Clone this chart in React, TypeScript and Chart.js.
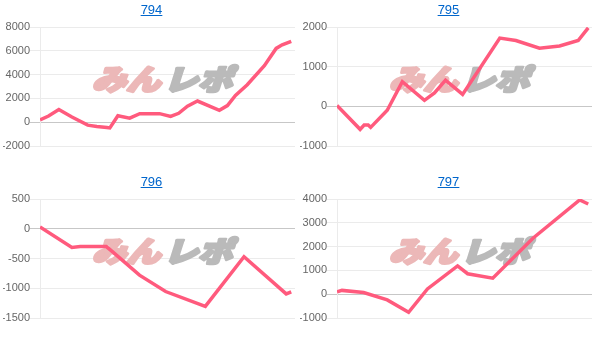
import React, { useEffect, useRef } from "react";
import { Chart, registerables } from "chart.js";

Chart.register(...registerables);

// Titles of the four small charts
const titles = ["794", "795", "796", "797"];

// Progress (% of run) and value for each chart
const x794 = [0, 3.4, 7.5, 12.7, 19.0, 22.6, 26.6, 27.8, 31.0, 35.7, 39.7, 47.6, 52.0, 55.2, 58.7, 62.7, 71.4, 74.6, 77.8, 82.5, 89.3, 94.0, 96.4, 100];
const y794 = [200, 520, 1060, 430, -250, -360, -440, -480, 540, 340, 720, 720, 480, 750, 1350, 1780, 1000, 1400, 2250, 3150, 4750, 6200, 6500, 6800];

const x795 = [0, 9.2, 10.8, 12.4, 13.4, 20, 26, 34.8, 38.8, 43.2, 50, 64.8, 71.2, 80.6, 88.6, 96, 100];
const y795 = [20, -580, -470, -470, -530, -100, 620, 150, 340, 660, 300, 1720, 1660, 1464, 1520, 1660, 1980];

const x796 = [0, 12.7, 16, 26.4, 28.7, 39.6, 50, 65.8, 81.2, 98, 100];
const y796 = [30, -315, -300, -300, -380, -780, -1055, -1305, -470, -1095, -1060];

const x797 = [0, 2, 10.6, 20, 28.5, 36, 48, 52, 62, 78, 96.6, 100];
const y797 = [100, 160, 70, -240, -760, 220, 1190, 860, 675, 2350, 3960, 3790];

// Y axis ranges / tick steps
const yMins = [-2000, -1000, -1500, -1000];
const yMaxs = [8000, 2000, 500, 4000];
const ySteps = [2000, 1000, 500, 1000];

const xsAll = [x794, x795, x796, x797];
const ysAll = [y794, y795, y796, y797];

const PANEL_W = 297;
const PANEL_H = 172;

const watermark = {
  id: "watermark",
  beforeDatasetsDraw(chart: any) {
    const { ctx, chartArea } = chart;
    ctx.save();
    const cx = (chartArea.left + chartArea.right) / 2 - 2;
    const cy = chartArea.top + 52;
    ctx.translate(cx, cy);
    ctx.transform(1.14, 0, -0.3, 0.95, 0, 0);
    ctx.font = "900 30px 'Noto Sans CJK JP'";
    ctx.textBaseline = "middle";
    ctx.lineJoin = "round";
    ctx.lineWidth = 3;
    const a = "みん";
    const b = "レポ";
    const wa = ctx.measureText(a).width;
    const wb = ctx.measureText(b).width;
    const gap = 3;
    const total = wa + wb + gap;
    ctx.fillStyle = "rgb(236,184,184)";
    ctx.strokeStyle = "rgb(236,184,184)";
    ctx.strokeText(a, -total / 2, 0);
    ctx.fillText(a, -total / 2, 0);
    ctx.fillStyle = "rgb(186,186,186)";
    ctx.strokeStyle = "rgb(186,186,186)";
    ctx.strokeText(b, -total / 2 + wa + gap, 0);
    ctx.fillText(b, -total / 2 + wa + gap, 0);
    ctx.restore();
  },
};

function Panel({ idx, left, top }: { idx: number; left: number; top: number }) {
  const ref = useRef<HTMLCanvasElement>(null);
  useEffect(() => {
    if (!ref.current) return;
    const xs = xsAll[idx];
    const ys = ysAll[idx];
    const chart = new Chart(ref.current, {
      type: "line",
      data: {
        datasets: [
          {
            data: xs.map((x, i) => ({ x, y: ys[i] })),
            borderColor: "rgb(255,90,125)",
            backgroundColor: "rgb(255,90,125)",
            borderWidth: 3.5,
            pointRadius: 0,
            fill: false,
            tension: 0,
          },
        ],
      },
      options: {
        animation: false,
        responsive: false,
        events: [],
        layout: { padding: { top: 27, bottom: 26, right: 5, left: 0 } },
        plugins: {
          legend: { display: false },
          title: { display: false },
          tooltip: { enabled: false },
        },
        scales: {
          x: { type: "linear", min: 0, max: 101.5, display: false },
          y: {
            min: yMins[idx],
            max: yMaxs[idx],
            ticks: {
              stepSize: ySteps[idx],
              color: "#666",
              font: { family: "'Liberation Sans', Arial, sans-serif", size: 11 },
              padding: 0,
              callback: (v: any) => String(v),
            },
            grid: {
              color: (c: any) =>
                c.tick && c.tick.value === 0 ? "rgba(0,0,0,0.22)" : "rgba(0,0,0,0.08)",
              tickLength: 10,
            },
            border: { color: "rgba(0,0,0,0.08)" },
            afterFit: (s: any) => {
              s.width = 37;
            },
          },
        },
      } as any,
      plugins: [watermark],
    });
    return () => chart.destroy();
  }, [idx]);

  return (
    <div style={{ position: "absolute", left, top, width: PANEL_W, height: PANEL_H }}>
      <canvas
        ref={ref}
        width={PANEL_W}
        height={PANEL_H}
        style={{ position: "absolute", left: 0, top: 0, width: PANEL_W, height: PANEL_H }}
      />
      <div
        style={{
          position: "absolute",
          left: 0,
          top: 2,
          width: PANEL_W,
          textAlign: "center",
          font: "13px 'Liberation Sans', Arial, sans-serif",
          lineHeight: "15px",
        }}
      >
        <a href="#" style={{ color: "rgb(0,102,204)", textDecoration: "underline" }}>
          {titles[idx]}
        </a>
      </div>
    </div>
  );
}

export default function App() {
  return (
    <div
      style={{
        position: "absolute",
        left: 0,
        top: 0,
        width: 601,
        height: 352,
        background: "#fff",
        overflow: "hidden",
      }}
    >
      <Panel idx={0} left={3} top={0} />
      <Panel idx={1} left={300} top={0} />
      <Panel idx={2} left={3} top={172} />
      <Panel idx={3} left={300} top={172} />
    </div>
  );
}
